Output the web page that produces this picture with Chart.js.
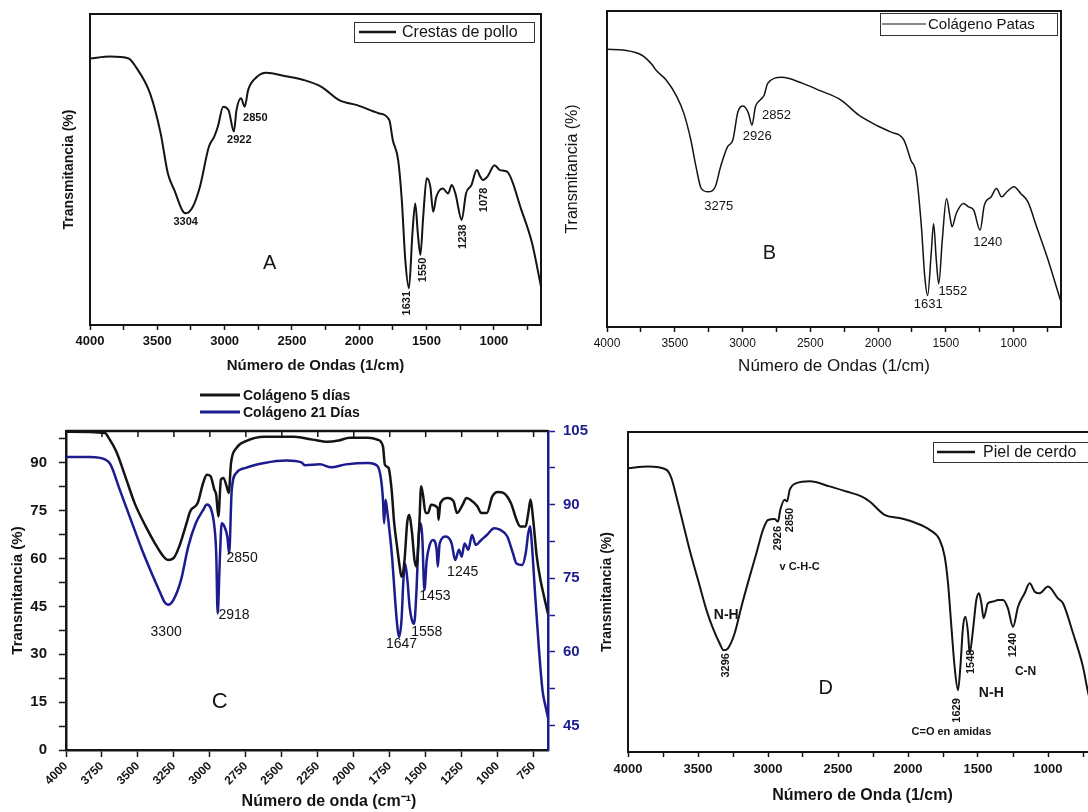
<!DOCTYPE html>
<html><head><meta charset="utf-8">
<script src="https://cdn.jsdelivr.net/npm/chart.js@4.4.1/dist/chart.umd.min.js"></script>
<style>
html,body{margin:0;padding:0;background:#fff;width:1088px;height:812px;overflow:hidden;position:relative;}
canvas{position:absolute;}
</style></head><body>
<canvas id="cA" width="560" height="380" style="left:0;top:0"></canvas>
<canvas id="cB" width="528" height="380" style="left:560px;top:0"></canvas>
<canvas id="cD" width="600" height="432" style="left:580px;top:380px"></canvas>
<canvas id="cC" width="600" height="432" style="left:0;top:380px"></canvas>
<script>
// ---------- DATA ----------
const wnA = [4000,3850,3713,3660,3554,3475,3422,3369,3316,3289,3236,3183,3117,3077,3050,3011,2971,2931,2912,2878,2851,2825,2759,2692,2546,2414,2281,2149,2016,1857,1777,1751,1711,1684,1658,1631,1605,1584,1565,1546,1525,1499,1472,1451,1427,1379,1340,1313,1286,1239,1207,1167,1127,1101,1082,1048,995,955,902,796,716,650];
const tA = [85.7,86.3,85.7,83,74.5,61.6,48.8,42.9,37,35.9,38,44.5,57.3,60.6,63.8,70.2,69.1,62.2,69.1,72.9,70.2,75.6,79.8,81.1,80,78.8,76.6,72.3,70.7,68.1,65.9,59.5,53,40.2,20.9,11.8,29.5,39.1,29.5,22.5,34.8,47.2,44.5,36.4,41.3,43.9,42.3,45,42.3,33.8,42.3,45,49.8,47.7,46.6,47.7,51.4,49.8,49.3,37,26.3,12.3];

const wnB = [4000,3871,3742,3665,3639,3562,3485,3433,3381,3343,3304,3253,3201,3162,3111,3072,3034,2995,2956,2930,2905,2871,2840,2814,2711,2557,2428,2273,2144,2015,1912,1809,1758,1719,1680,1655,1634,1608,1590,1570,1552,1526,1495,1469,1454,1423,1371,1332,1294,1247,1216,1165,1126,1088,1049,997,946,894,830,753,650];
const tB = [87.9,87.6,86,82.9,81.3,78.1,72.9,67.6,59.1,50.7,43.8,42.8,44.4,50.7,57,59.1,68.1,69.9,67.6,63.9,69.7,71.8,73.4,77.1,79,77.1,74.8,71.8,67.1,63.9,61.8,59.1,52.8,48.6,31.7,15.8,10,23.2,32.7,21.1,13.7,27.5,40.7,34.8,31.7,35.9,39.1,38,37,30.6,38.5,41.2,43.8,41.2,42.8,44.4,42.2,39.6,31.7,22.2,7.9];

const wnC5 = [4000,3729,3704,3652,3588,3523,3446,3382,3330,3291,3253,3213,3162,3137,3085,3047,3021,2995,2969,2956,2941,2923,2905,2884,2869,2853,2815,2750,2621,2415,2286,2183,2106,2029,1900,1836,1797,1784,1758,1737,1719,1699,1681,1668,1647,1629,1616,1596,1578,1565,1544,1532,1519,1501,1483,1463,1416,1411,1398,1346,1307,1282,1243,1217,1192,1140,1114,1075,1037,998,960,908,869,843,805,787,771,753,728,702,677,650];
const tC5 = [99.8,99.4,97.9,93.7,85.8,77.4,70.1,64.8,61.1,59.6,60.1,63.8,71.1,74.8,77.4,83.7,86.3,85.8,81.6,80,73.2,84.8,85.3,82.7,80.6,90,94.7,96.8,98.2,98.2,97.3,96.6,97,97.9,97.9,97.3,95.2,89.5,88.4,81.6,71.1,63.8,57.5,54.3,59.6,71.1,73.7,68.5,59.6,57.5,71.1,82.7,80,74.3,74.3,76.9,75.8,72.2,77.4,79,78,74.3,76.9,79,78.5,76.3,74.3,74.3,79.5,80.9,80.6,77.4,72.2,70.1,70.1,74.3,78.5,72.2,60.6,53.2,48,42.7];

const wnC21 = [4000,3833,3729,3691,3626,3549,3472,3394,3343,3317,3291,3253,3201,3150,3098,3047,3021,2995,2969,2956,2946,2931,2918,2900,2879,2866,2848,2815,2750,2621,2467,2364,2338,2235,2157,2055,1900,1836,1810,1797,1789,1779,1766,1750,1732,1714,1699,1686,1668,1655,1643,1627,1612,1596,1581,1565,1550,1540,1524,1509,1493,1475,1450,1424,1416,1403,1359,1320,1295,1269,1250,1230,1204,1178,1152,1114,1075,1024,985,933,894,869,830,805,787,774,761,740,714,688,668,650];
const tC21 = [99.7,99.7,99.2,98.2,93.0,86.9,80.8,75.3,71.9,70.2,69.6,70.6,74.6,81.5,86.2,88.9,90.0,89.3,85.6,80.1,67.8,78.7,86.2,85.6,83.5,80.1,93.0,96.5,97.5,98.5,99.0,98.6,98.0,98.2,97.6,98.2,98.5,97.9,95.1,91.0,86.2,91.0,88.3,84.2,78.7,71.2,65.7,63.0,66.5,74.6,78.0,74.6,69.2,66.5,65.7,71.9,82.8,86.2,83.5,72.6,78.7,81.5,82.8,80.8,77.4,82.1,83.5,82.1,78.7,80.8,79.4,82.1,80.8,83.8,81.8,82.8,83.8,85.2,84.9,83.5,80.1,78.0,77.7,80.1,84.2,85.6,81.5,71.9,61.0,52.1,49.0,46.6];

const wnD = [4000,3857,3726,3690,3655,3607,3560,3500,3440,3393,3345,3317,3286,3238,3190,3131,3083,3036,3000,2952,2929,2912,2881,2864,2845,2798,2702,2560,2440,2333,2274,2167,2060,1940,1845,1774,1738,1714,1690,1667,1643,1626,1607,1590,1571,1560,1536,1512,1493,1476,1460,1429,1393,1357,1321,1286,1250,1214,1167,1131,1095,1060,1000,929,893,821,750,717,650];
const tD = [88.7,89.2,88.2,85.6,79.9,71.5,63.2,53.8,44.4,38.6,33.9,31.8,32.4,37.1,45.4,54.8,62.1,69.4,72.5,72.8,72,75.7,78.8,78.3,81.9,84,84.6,83,81.4,79.9,78.3,74.1,73.1,71.5,69.4,66.3,61.1,52.7,39.1,26.6,19.3,26.6,39.1,42.3,37.1,30.8,38.1,47.5,49.6,46.5,41.8,46.5,47,47.5,47.5,44.9,39.1,45.4,49.6,52.7,50.1,49.6,51.7,48,46.5,37.1,26.6,19.3,8];

// tick labels
const xTicksAll = [4000,3750,3500,3250,3000,2750,2500,2250,2000,1750,1500,1250,1000,750];
const xTickLabels = [4000,3500,3000,2500,2000,1500,1000];
const xTicksC = [4000,3750,3500,3250,3000,2750,2500,2250,2000,1750,1500,1250,1000,750];
const yTicksC = [0,7.5,15,22.5,30,37.5,45,52.5,60,67.5,75,82.5,90,97.5];
const yLabelsC = [0,15,30,45,60,75,90];
const y2TicksC = [45,52.5,60,67.5,75,82.5,90,97.5,105];
const y2LabelsC = [45,60,75,90,105];

// ---------- helpers ----------
const F = "'Liberation Sans', Arial, sans-serif";
const FN = "'Liberation Sans Narrow', 'Arial Narrow', 'Liberation Sans', sans-serif";
const K = '#141414';
const BLUE = '#1c1c8e';
Chart.defaults.font.family = F;
Chart.defaults.animation = false;

function pts(xs, ys){ return xs.map((x,i)=>({x:x, y:ys[i]})); }

function line(data, color, w, axis){
  return {data:data, borderColor:color, borderWidth:w, pointRadius:0, fill:false,
    cubicInterpolationMode:'monotone', yAxisID: axis||'y'};
}

function xScale(o){
  return {
    type:'linear', reverse:true, min:650, max:4000,
    afterBuildTicks: s => { s.ticks = o.ticks.map(v=>({value:v})); },
    ticks:{autoSkip:false, maxRotation:o.rot||0, minRotation:o.rot||0, padding:o.pad, color:K, font:o.font,
      callback: v => o.labels.includes(v) ? String(v) : ''},
    grid:{display:true, drawOnChartArea:false, drawTicks:true, tickLength:o.tl, tickWidth:1.5, tickColor:K},
    border:{display:true, color:K, width:o.bw},
    title: o.title ? {display:true, text:o.title, color:K, font:o.tfont, padding:{top:0,bottom:o.tpb}} : {display:false},
    afterFit: s => { s.height = o.h; }
  };
}
function yPlain(o){
  return {type:'linear', min:0, max:100, ticks:{display:false}, grid:{display:false},
    border:{display:true, color:K, width:o.bw},
    title:{display:true, text:'Transmitancia (%)', color:K, font:o.tfont, padding:{top:o.tpt,bottom:0}},
    afterFit: s => { s.width = o.w; }};
}

function notesPlugin(notes, legend, extra){
  return {
    id:'notes',
    afterDraw(chart){
      const ctx = chart.ctx, ca = chart.chartArea;
      ctx.save();
      // frame
      ctx.strokeStyle = K; ctx.lineWidth = extra.frameW;
      ctx.beginPath();
      ctx.moveTo(ca.left, ca.top); ctx.lineTo(ca.right, ca.top);
      if (!extra.noRight) ctx.lineTo(ca.right, ca.bottom);
      ctx.stroke();
      if (extra.topTicks) {
        const xs = chart.scales.x;
        ctx.lineWidth = 1.5;
        extra.topTicks.forEach(v => {
          const px = xs.getPixelForValue(v);
          ctx.beginPath(); ctx.moveTo(px, ca.top); ctx.lineTo(px, ca.top + 6); ctx.stroke();
        });
      }
      // annotations
      notes.forEach(n => {
        const px = chart.scales.x.getPixelForValue(n.x);
        const py = chart.scales[n.axis || 'y'].getPixelForValue(n.y);
        ctx.save(); ctx.translate(px, py); if (n.rot) ctx.rotate(-Math.PI/2);
        ctx.font = n.font; ctx.fillStyle = n.color || K; ctx.textAlign = 'center'; ctx.textBaseline = 'middle';
        ctx.fillText(n.t, 0, 0); ctx.restore();
      });
      // legend
      legend.forEach(L => {
        if (L.box) { ctx.strokeStyle = '#333'; ctx.lineWidth = 1; ctx.strokeRect(L.box[0]+0.5, L.box[1]+0.5, L.box[2], L.box[3]); }
        ctx.strokeStyle = L.color; ctx.lineWidth = L.lw;
        ctx.beginPath(); ctx.moveTo(L.x1, L.y); ctx.lineTo(L.x2, L.y); ctx.stroke();
        ctx.fillStyle = K; ctx.font = L.font; ctx.textAlign = 'left'; ctx.textBaseline = 'middle';
        ctx.fillText(L.text, L.tx, L.y + 1);
      });
      if (extra.xTitle) {
        const t = extra.xTitle;
        ctx.fillStyle = K; ctx.font = t.font; ctx.textAlign = 'center'; ctx.textBaseline = 'middle';
        ctx.fillText(t.text, t.x, t.y);
      }
      ctx.restore();
    }
  };
}

const basePlugins = {legend:{display:false}, tooltip:{enabled:false}};

// ---------- A ----------
new Chart(document.getElementById('cA'), {
  type:'line',
  data:{datasets:[line(pts(wnA,tA), K, 2)]},
  options:{responsive:false, animation:false, plugins:basePlugins,
    layout:{padding:{left:0, top:14, right:19, bottom:0}},
    scales:{
      x: xScale({ticks:xTicksAll, labels:xTickLabels, pad:4, tl:5, bw:2, h:55,
        font:{size:13, weight:'bold'}, title:'Número de Ondas (1/cm)', tfont:{size:15, weight:'bold'}, tpb:5}),
      y: yPlain({w:90, bw:2, tfont:{size:14, weight:'bold'}, tpt:61})
    }},
  plugins:[notesPlugin([
    {t:'3304', x:3289, y:33, font:"bold 11px "+F},
    {t:'2922', x:2891, y:59.5, font:"bold 11px "+F},
    {t:'2850', x:2772, y:66.5, font:"bold 11px "+F},
    {t:'A', x:2666, y:19.8, font:"20px "+F},
    {t:'1631', x:1644, y:7, rot:true, font:"bold 11px "+F},
    {t:'1550', x:1530, y:17.7, rot:true, font:"bold 11px "+F},
    {t:'1238', x:1228, y:28.4, rot:true, font:"bold 11px "+F},
    {t:'1078', x:1074, y:40.2, rot:true, font:"bold 11px "+F}
  ], [
    {box:[354,22,180,20], x1:359, x2:396, y:32, color:K, lw:2.5, tx:402, text:'Crestas de pollo', font:"16px "+F}
  ], {frameW:2})]
});

// ---------- B ----------
new Chart(document.getElementById('cB'), {
  type:'line',
  data:{datasets:[line(pts(wnB,tB), K, 1.5)]},
  options:{responsive:false, animation:false, plugins:basePlugins,
    layout:{padding:{left:0, top:11, right:27, bottom:0}},
    scales:{
      x: xScale({ticks:xTicksAll, labels:xTickLabels, pad:4, tl:5, bw:2, h:53,
        font:{size:12}, title:'Número de Ondas (1/cm)', tfont:{size:17}, tpb:3}),
      y: yPlain({w:47, bw:2, tfont:{size:16}, tpt:3})
    }},
  plugins:[notesPlugin([
    {t:'3275', x:3175, y:38, font:"13px "+F},
    {t:'2926', x:2892, y:60.2, font:"13px "+F},
    {t:'2852', x:2750, y:67, font:"13px "+F},
    {t:'B', x:2802, y:23.2, font:"20px "+F},
    {t:'1631', x:1629, y:7.2, font:"13px "+F},
    {t:'1552', x:1448, y:11.4, font:"13px "+F},
    {t:'1240', x:1191, y:26.9, font:"13px "+F}
  ], [
    {box:[320,13,177,22], x1:322, x2:366, y:24, color:K, lw:1.2, tx:368, text:'Colágeno Patas', font:"15px "+F}
  ], {frameW:2})]
});

// ---------- C ----------
new Chart(document.getElementById('cC'), {
  type:'line',
  data:{datasets:[
    line(pts(wnC5,tC5), K, 2.5, 'y'),
    line(pts(wnC21,tC21), BLUE, 2.5, 'y2')
  ]},
  options:{responsive:false, animation:false, plugins:basePlugins,
    layout:{padding:{left:0, top:51, right:0, bottom:0}},
    scales:{
      x: xScale({ticks:xTicksC, labels:xTicksC, pad:2, tl:7, bw:2.5, h:62, rot:45,
        font:{size:12, weight:'bold'}, title:null}),
      y: {type:'linear', position:'left', min:0, max:100,
        afterBuildTicks: s => { s.ticks = yTicksC.map(v=>({value:v})); },
        ticks:{color:K, font:{size:15, weight:'bold'}, padding:12, callback: v => yLabelsC.includes(v) ? String(v) : ''},
        grid:{display:true, drawOnChartArea:false, tickLength:7, tickWidth:1.5, tickColor:K},
        border:{display:true, color:K, width:2.5},
        title:{display:true, text:'Transmitancia (%)', color:K, font:{size:15, weight:'bold'}, padding:{top:9,bottom:0}},
        afterFit: s => { s.width = 66; }},
      y2: {type:'linear', position:'right', min:40, max:105,
        afterBuildTicks: s => { s.ticks = y2TicksC.map(v=>({value:v})); },
        ticks:{color:BLUE, font:{size:15, weight:'bold'}, padding:8, callback: v => y2LabelsC.includes(v) ? String(v) : ''},
        grid:{display:true, drawOnChartArea:false, tickLength:7, tickWidth:1.5, tickColor:BLUE},
        border:{display:true, color:BLUE, width:2.5},
        afterFit: s => { s.width = 52; }}
    }},
  plugins:[notesPlugin([
    {t:'3300', x:3304, y:37, font:"14px "+FN},
    {t:'2918', x:2832, y:42.3, font:"14px "+FN},
    {t:'2850', x:2776, y:60.3, font:"14px "+FN},
    {t:'1647', x:1668, y:33.3, font:"14px "+FN},
    {t:'1558', x:1493, y:36.8, font:"14px "+FN},
    {t:'1453', x:1436, y:48.3, font:"14px "+FN},
    {t:'1245', x:1243, y:55.6, font:"14px "+FN},
    {t:'C', x:2931, y:15, font:"22px "+F}
  ], [
    {x1:200, x2:240, y:15, color:K, lw:3, tx:243, text:'Colágeno 5 días', font:"bold 14px "+F},
    {x1:200, x2:240, y:32, color:BLUE, lw:3, tx:243, text:'Colágeno 21 Días', font:"bold 14px "+F}
  ], {frameW:2.5, noRight:true, topTicks:xTicksC,
      xTitle:{text:'Número de onda (cm⁻¹)', x:329, y:422, font:"bold 16px "+F}})]
});

// ---------- D ----------
new Chart(document.getElementById('cD'), {
  type:'line',
  data:{datasets:[line(pts(wnD,tD), K, 2)]},
  options:{responsive:false, animation:false, plugins:basePlugins,
    layout:{padding:{left:0, top:52, right:83, bottom:0}},
    scales:{
      x: xScale({ticks:xTicksAll, labels:xTickLabels, pad:5, tl:5, bw:2, h:60,
        font:{size:13, weight:'bold'}, title:'Número de Onda (1/cm)', tfont:{size:16, weight:'bold'}, tpb:7}),
      y: yPlain({w:48, bw:2, tfont:{size:14, weight:'bold'}, tpt:19})
    }},
  plugins:[notesPlugin([
    {t:'N-H', x:3298, y:42.8, font:"bold 14px "+F},
    {t:'3296', x:3298, y:27.1, rot:true, font:"bold 11px "+F},
    {t:'2926', x:2929, y:66.8, rot:true, font:"bold 11px "+F},
    {t:'2850', x:2845, y:72.5, rot:true, font:"bold 11px "+F},
    {t:'v C-H-C', x:2774, y:57.9, font:"bold 11px "+F},
    {t:'D', x:2588, y:19.8, font:"20px "+F},
    {t:'1629', x:1648, y:13, rot:true, font:"bold 11px "+F},
    {t:'1548', x:1548, y:28.2, rot:true, font:"bold 11px "+F},
    {t:'N-H', x:1405, y:18.5, font:"bold 14px "+F},
    {t:'1240', x:1250, y:33.4, rot:true, font:"bold 11px "+F},
    {t:'C-N', x:1160, y:25, font:"bold 12px "+F},
    {t:'C=O en amidas', x:1690, y:6.3, font:"bold 11px "+F}
  ], [
    {box:[353,62,200,20], x1:357, x2:395, y:72, color:K, lw:2.5, tx:403, text:'Piel de cerdo', font:"16px "+F}
  ], {frameW:2})]
});
</script>
</body></html>
